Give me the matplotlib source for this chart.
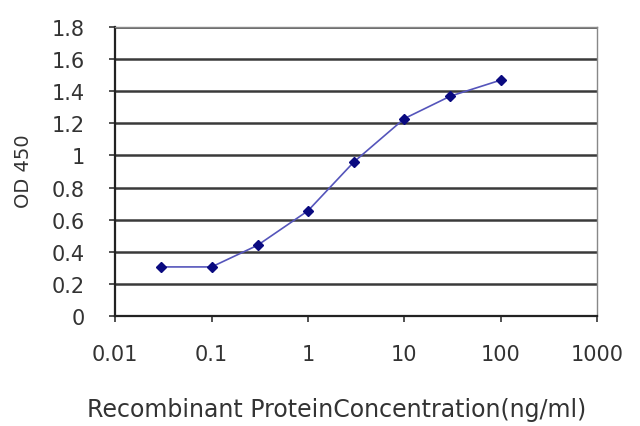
import matplotlib.pyplot as plt

conc = [0.03, 0.1, 0.3, 1, 3, 10, 30, 100]
od = [0.305, 0.305, 0.44, 0.655, 0.96, 1.23, 1.37, 1.47]
xticks = [0.01, 0.1, 1, 10, 100, 1000]
xlabels = ["0.01", "0.1", "1", "10", "100", "1000"]
yticks = [0, 0.2, 0.4, 0.6, 0.8, 1.0, 1.2, 1.4, 1.6, 1.8]
ylabels = ["0", "0.2", "0.4", "0.6", "0.8", "1", "1.2", "1.4", "1.6", "1.8"]

plt.rcParams['font.family'] = ['DejaVu Sans']
fig = plt.figure(figsize=(6.4, 4.27), dpi=100)
ax = fig.add_axes([0.18, 0.258, 0.753, 0.676])

for y in yticks[1:]:
    ax.axhline(y, color='#3a3a3a', lw=1.8, zorder=1)
ax.plot(conc, od, color='#5555bb', lw=1.2, marker='D', ms=5,
        mfc='#0a0a80', mec='#0a0a80', zorder=3)

ax.set_xscale('log')
ax.set_xlim(0.01, 1000)
ax.set_ylim(0, 1.8)
ax.set_xticks(xticks)
ax.set_xticklabels(xlabels)
ax.minorticks_off()
ax.set_yticks(yticks)
ax.set_yticklabels(ylabels)
ax.tick_params(labelsize=15, colors='#333333', length=4, width=1.2)
ax.tick_params(axis='y', pad=18)
ax.tick_params(axis='x', pad=16)

for s in ['left', 'bottom']:
    ax.spines[s].set_color('#222222')
    ax.spines[s].set_linewidth(1.6)
for s in ['top', 'right']:
    ax.spines[s].set_color('#888888')
    ax.spines[s].set_linewidth(1.0)

ax.set_ylabel("OD 450", fontsize=14, color='#333333')
ax.yaxis.set_label_coords(-0.17, 0.505)
ax.set_xlabel("Recombinant ProteinConcentration(ng/ml)", fontsize=17,
              color='#333333')
ax.xaxis.set_label_coords(0.46, -0.28)

fig.savefig("out.png", dpi=100)
